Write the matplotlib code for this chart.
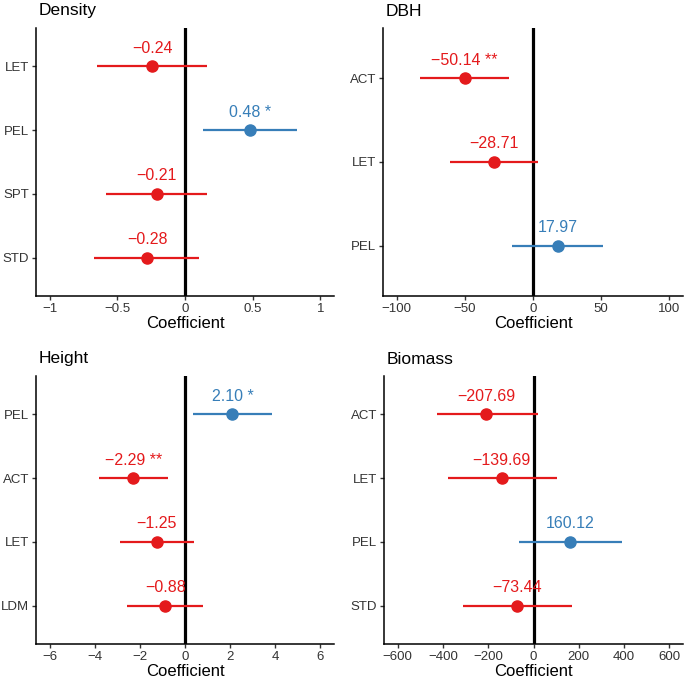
import numpy as np
import matplotlib.pyplot as plt
from matplotlib.ticker import FuncFormatter

plt.rcParams['font.family'] = ['Liberation Sans', 'DejaVu Sans']

red = '#E41A1C'
blue = '#377EB8'

# Density
density_terms = ['LET', 'PEL', 'SPT', 'STD']
density_est = [-0.24, 0.48, -0.21, -0.28]
density_lo = [-0.65, 0.13, -0.58, -0.67]
density_hi = [0.16, 0.83, 0.16, 0.10]
density_sig = ['', ' *', '', '']
density_ticks = [-1, -0.5, 0, 0.5, 1]

# DBH
dbh_terms = ['ACT', 'LET', 'PEL']
dbh_est = [-50.14, -28.71, 17.97]
dbh_lo = [-83, -61, -15.4]
dbh_hi = [-17.6, 3.7, 51.5]
dbh_sig = [' **', '', '']
dbh_ticks = [-100, -50, 0, 50, 100]

# Height
height_terms = ['PEL', 'ACT', 'LET', 'LDM']
height_est = [2.10, -2.29, -1.25, -0.88]
height_lo = [0.36, -3.82, -2.89, -2.58]
height_hi = [3.87, -0.75, 0.40, 0.80]
height_sig = [' *', ' **', '', '']
height_ticks = [-6, -4, -2, 0, 2, 4, 6]

# Biomass
biomass_terms = ['ACT', 'LET', 'PEL', 'STD']
biomass_est = [-207.69, -139.69, 160.12, -73.44]
biomass_lo = [-428, -379, -66, -313]
biomass_hi = [18, 103, 392, 172]
biomass_sig = ['', '', '', '']
biomass_ticks = [-600, -400, -200, 0, 200, 400, 600]

panels = [
    ('Density', density_terms, density_est, density_lo, density_hi, density_sig, density_ticks, 1.1),
    ('DBH', dbh_terms, dbh_est, dbh_lo, dbh_hi, dbh_sig, dbh_ticks, 110),
    ('Height', height_terms, height_est, height_lo, height_hi, height_sig, height_ticks, 6.6),
    ('Biomass', biomass_terms, biomass_est, biomass_lo, biomass_hi, biomass_sig, biomass_ticks, 660),
]

# axes boxes in pixels: left, top, right, bottom
W, H = 685, 683
boxes = [(36, 28, 334, 296), (383, 28, 683, 296),
         (36, 376, 334, 644), (384, 376, 683, 644)]

fig = plt.figure(figsize=(W / 100, H / 100), dpi=100)

def fmt(v, pos=None):
    s = ('%g' % v)
    return s.replace('-', '\u2212')

for (title, terms, est, lo, hi, sig, ticks, lim), (l, t, r, b) in zip(panels, boxes):
    ax = fig.add_axes([l / W, (H - b) / H, (r - l) / W, (b - t) / H])
    n = len(terms)
    y = np.arange(n)[::-1] + 1
    ax.axvline(0, color='black', lw=2.3, zorder=1)
    for yi, e, a, c, s in zip(y, est, lo, hi, sig):
        col = blue if e > 0 else red
        ax.plot([a, c], [yi, yi], color=col, lw=1.6, zorder=2, solid_capstyle='butt')
        ax.plot(e, yi, 'o', color=col, ms=8, zorder=3)
        ax.annotate(('%.2f' % e).replace('-', '\u2212') + s, (e, yi),
                    xytext=(0, 13), textcoords='offset points',
                    ha='center', va='center', color=col, fontsize=11.5)
    ax.set_xlim(-lim, lim)
    ax.set_ylim(0.4, n + 0.6)
    ax.set_yticks(y)
    ax.set_yticklabels(terms)
    ax.set_xticks(ticks)
    ax.xaxis.set_major_formatter(FuncFormatter(fmt))
    for sp in ['top', 'right']:
        ax.spines[sp].set_visible(False)
    for sp in ['left', 'bottom']:
        ax.spines[sp].set_linewidth(1.1)
    ax.tick_params(length=3, width=1.0, labelsize=9.5, colors='#333333', pad=2)
    ax.set_xlabel('Coefficient', fontsize=12, labelpad=1)
    ax.set_title(title, loc='left', fontsize=12.5, pad=9, x=0.01)

fig.savefig('out.png', dpi=100)
